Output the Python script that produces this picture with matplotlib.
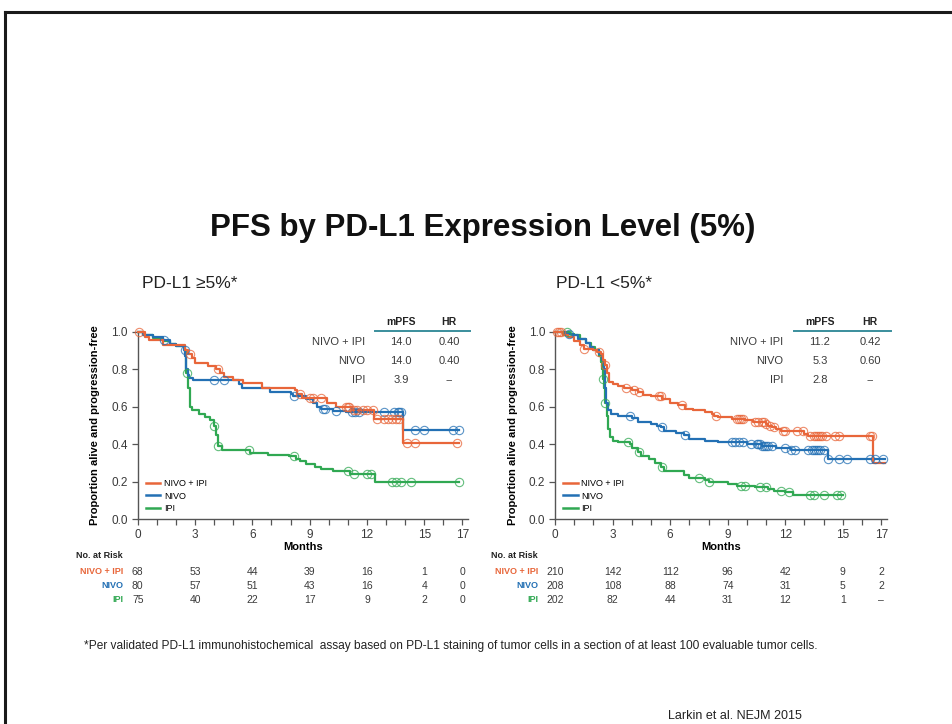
import numpy as np
import matplotlib
matplotlib.use("Agg")
import matplotlib.pyplot as plt
from matplotlib import transforms
from matplotlib.lines import Line2D

W, H = 953, 724

plt.rcParams['font.family'] = ['Liberation Sans', 'DejaVu Sans']

ORANGE = '#E8663A'
BLUE = '#2370B4'
GREEN = '#30A852'
TEAL = '#3A8E9C'
GREY = '#3a3a3a'

arms = ['NIVO + IPI', 'NIVO', 'IPI']
arm_colors = [ORANGE, BLUE, GREEN]

# ---- PD-L1 >=5% ----
ge5_combo_t = [0, 0.4, 0.6, 1.3, 2.5, 2.65, 2.85, 3.0, 3.7, 4.1, 4.3, 4.5, 5.0, 5.5, 6.5,
               8.25, 8.35, 8.6, 9.9, 10.4, 11.2, 12.35, 13.9, 16.8]
ge5_combo_s = [1.0, 0.97, 0.955, 0.93, 0.90, 0.88, 0.86, 0.835, 0.815, 0.80, 0.78, 0.76, 0.745,
               0.725, 0.70, 0.69, 0.67, 0.645, 0.62, 0.60, 0.58, 0.535, 0.405, 0.405]
ge5_combo_c = [0.05, 2.75, 4.2, 8.5, 9.0, 9.2, 9.6, 10.9, 11.0, 11.05, 11.3, 11.5, 11.8, 12.0,
               12.3, 12.5, 12.9, 13.1, 13.3, 13.5, 13.7, 14.1, 14.5, 16.7]

ge5_nivo_t = [0, 0.3, 0.8, 1.3, 1.7, 2.0, 2.4, 2.5, 2.55, 2.62, 2.7, 2.9, 5.3, 5.45, 6.9, 8.0,
              8.15, 8.8, 9.2, 9.4, 9.6, 10.2, 10.9, 13.9, 16.8]
ge5_nivo_s = [1.0, 0.98, 0.97, 0.955, 0.935, 0.925, 0.90, 0.87, 0.80, 0.77, 0.755, 0.74, 0.72,
              0.70, 0.68, 0.67, 0.655, 0.64, 0.62, 0.60, 0.59, 0.575, 0.57, 0.475, 0.475]
ge5_nivo_c = [1.4, 2.45, 4.0, 4.5, 8.2, 9.7, 9.8, 10.4, 11.2, 11.4, 11.6, 12.9, 13.4, 13.6,
              13.7, 13.8, 14.5, 15.0, 16.5, 16.8]

ge5_ipi_t = [0, 0.3, 0.8, 1.3, 1.7, 2.0, 2.5, 2.55, 2.65, 2.75, 2.85, 3.2, 3.5, 3.8, 4.0, 4.1,
             4.2, 4.4, 5.9, 6.8, 7.9, 8.3, 8.5, 8.8, 9.3, 9.6, 10.2, 11.1, 12.4, 16.8]
ge5_ipi_s = [1.0, 0.98, 0.965, 0.95, 0.935, 0.925, 0.89, 0.78, 0.70, 0.60, 0.58, 0.56, 0.545,
             0.53, 0.50, 0.45, 0.39, 0.37, 0.355, 0.345, 0.335, 0.32, 0.31, 0.295, 0.28, 0.27,
             0.26, 0.24, 0.20, 0.20]
ge5_ipi_c = [2.6, 4.0, 4.2, 5.8, 8.2, 11.0, 11.3, 12.0, 12.2, 13.3, 13.5, 13.8, 14.3, 16.8]

# ---- PD-L1 <5% ----
lt5_combo_t = [0, 0.4, 0.7, 1.0, 1.3, 1.5, 2.0, 2.2, 2.4, 2.5, 2.6, 2.7, 2.8, 3.0, 3.3, 3.6,
               4.0, 4.3, 4.6, 5.0, 5.6, 6.0, 6.4, 6.8, 7.2, 7.8, 8.2, 8.3, 8.5, 9.2, 9.9, 10.3,
               11.0, 11.1, 11.3, 11.5, 11.8, 13.0, 13.2, 16.55, 17.2]
lt5_combo_s = [1.0, 0.98, 0.97, 0.95, 0.93, 0.91, 0.90, 0.89, 0.88, 0.85, 0.82, 0.78, 0.73,
               0.72, 0.71, 0.70, 0.69, 0.68, 0.665, 0.655, 0.64, 0.62, 0.61, 0.59, 0.58, 0.57,
               0.56, 0.55, 0.545, 0.535, 0.53, 0.52, 0.51, 0.50, 0.49, 0.48, 0.47, 0.455, 0.445,
               0.30, 0.30]
lt5_combo_c = [0.1, 0.2, 0.3, 1.5, 2.3, 2.6, 3.7, 4.1, 4.4, 5.4, 5.5, 6.6, 8.4, 9.5, 9.6, 9.7,
               9.8, 10.4, 10.6, 10.8, 10.9, 11.0, 11.2, 11.4, 11.9, 12.0, 12.6, 12.9, 13.3,
               13.5, 13.6, 13.7, 13.8, 13.9, 14.1, 14.6, 14.8, 16.4, 16.5]

lt5_nivo_t = [0, 0.5, 0.9, 1.2, 1.6, 1.8, 2.0, 2.3, 2.45, 2.55, 2.6, 2.65, 2.75, 2.9, 3.3,
              4.0, 4.3, 5.0, 5.3, 5.5, 5.7, 6.3, 6.7, 7.0, 7.8, 8.5, 10.0, 10.8, 11.5, 12.3,
              14.2, 17.2]
lt5_nivo_s = [1.0, 0.99, 0.98, 0.96, 0.94, 0.92, 0.90, 0.88, 0.85, 0.80, 0.70, 0.62, 0.58,
              0.56, 0.55, 0.54, 0.52, 0.51, 0.50, 0.49, 0.47, 0.46, 0.45, 0.43, 0.42, 0.41,
              0.40, 0.39, 0.38, 0.37, 0.32, 0.32]
lt5_nivo_c = [0.75, 3.9, 5.6, 6.8, 9.2, 9.4, 9.6, 9.8, 10.2, 10.5, 10.6, 10.7, 10.8, 10.9,
              11.0, 11.1, 11.3, 12.0, 12.3, 12.5, 13.2, 13.4, 13.5, 13.6, 13.7, 13.8, 14.0,
              14.2, 14.8, 15.2, 16.4, 16.7, 17.1]

lt5_ipi_t = [0, 0.8, 1.0, 1.3, 1.6, 1.9, 2.1, 2.3, 2.4, 2.45, 2.5, 2.55, 2.6, 2.7, 2.75, 2.85,
             3.0, 3.3, 3.9, 4.0, 4.3, 4.5, 4.9, 5.2, 5.5, 5.7, 6.5, 6.7, 7.0, 7.8, 8.0, 9.0,
             9.5, 10.4, 11.1, 11.4, 12.0, 12.4, 15.0]
lt5_ipi_s = [1.0, 0.99, 0.98, 0.96, 0.94, 0.92, 0.90, 0.87, 0.84, 0.80, 0.75, 0.70, 0.62,
             0.55, 0.48, 0.44, 0.42, 0.41, 0.40, 0.38, 0.36, 0.34, 0.32, 0.30, 0.28, 0.26,
             0.255, 0.235, 0.22, 0.21, 0.20, 0.19, 0.18, 0.17, 0.16, 0.15, 0.145, 0.13, 0.13]
lt5_ipi_c = [0.6, 2.5, 2.6, 3.8, 4.4, 5.6, 7.5, 8.0, 9.7, 9.9, 10.7, 11.0, 11.8, 12.2, 13.3,
             13.5, 14.0, 14.7, 14.9]

# summary table
ge5_mpfs = ['14.0', '14.0', '3.9']
ge5_hr = ['0.40', '0.40', '--']
lt5_mpfs = ['11.2', '5.3', '2.8']
lt5_hr = ['0.42', '0.60', '--']

# numbers at risk
risk_months = [0, 3, 6, 9, 12, 15, 17]
ge5_risk = [[68, 53, 44, 39, 16, 1, 0],
            [80, 57, 51, 43, 16, 4, 0],
            [75, 40, 22, 17, 9, 2, 0]]
lt5_risk = [[210, 142, 112, 96, 42, 9, 2],
            [208, 108, 88, 74, 31, 5, 2],
            [202, 82, 44, 31, 12, 1, '–']]


def fx(x):
    return x / W


def fy(y):
    return 1 - y / H


NARROW = ['Liberation Sans Narrow', 'Liberation Sans', 'DejaVu Sans']


def km_panel(fig, ax, curves, mpfs, hr, risk, label_right, table_x):
    for (t, s, c), col in zip(curves[::-1], arm_colors[::-1]):
        t = np.array(t)
        s = np.array(s)
        ax.step(t, s, where='post', color=col, lw=1.6, clip_on=False, zorder=3)
        idx = np.searchsorted(t, np.array(c), side='right') - 1
        ax.plot(c, s[idx], 'o', mfc='none', mec=col, ms=6, mew=0.8, alpha=0.75,
                clip_on=False, zorder=4)

    ax.set_xlim(0, 17.3)
    ax.set_ylim(0, 1.0)
    ax.spines['top'].set_visible(False)
    ax.spines['right'].set_visible(False)
    for sp in ['left', 'bottom']:
        ax.spines[sp].set_color('#555555')
        ax.spines[sp].set_linewidth(1.0)
    ax.set_xticks(range(0, 18))
    ax.set_xticklabels([str(m) if m in risk_months else '' for m in range(0, 18)])
    ax.set_yticks(np.arange(0, 1.01, 0.2))
    ax.set_yticklabels(['%.1f' % v for v in np.arange(0, 1.01, 0.2)])
    ax.tick_params(direction='out', length=4, width=0.9, color='#555555',
                   labelsize=8.5, labelcolor=GREY, pad=3)
    ax.set_xlabel('Months', fontsize=8, fontweight='bold', family=NARROW, labelpad=1)
    ax.set_ylabel('Proportion alive and progression-free', fontsize=8, fontweight='bold',
                  family=NARROW, labelpad=8)

    handles = [Line2D([0], [0], color=c, lw=1.8) for c in arm_colors]
    ax.legend(handles, arms, loc='lower left', bbox_to_anchor=(0.025, 0.035),
              frameon=False, fontsize=6.5, handlelength=1.6, handletextpad=0.4,
              labelspacing=0.35, borderpad=0, borderaxespad=0)

    # summary table
    lab_x, mp_x, hr_x = table_x
    fig.text(fx(mp_x), fy(322), 'mPFS', ha='center', va='center', fontsize=7.5,
             fontweight='bold', family=NARROW, color='#222222')
    fig.text(fx(hr_x), fy(322), 'HR', ha='center', va='center', fontsize=7.5,
             fontweight='bold', family=NARROW, color='#222222')
    fig.add_artist(Line2D([fx(mp_x - 26), fx(hr_x + 21)], [fy(331), fy(331)],
                          color=TEAL, lw=1.4))
    for i, y in enumerate([342, 361, 380]):
        fig.text(fx(lab_x), fy(y), arms[i], ha='right', va='center', fontsize=8, color=GREY)
        fig.text(fx(mp_x), fy(y), mpfs[i], ha='center', va='center', fontsize=8, color=GREY)
        fig.text(fx(hr_x), fy(y), hr[i], ha='center', va='center', fontsize=8, color=GREY)

    # numbers at risk
    trans = transforms.blended_transform_factory(ax.transData, fig.transFigure)
    fig.text(fx(label_right), fy(556), 'No. at Risk', ha='right', va='center', fontsize=6.5,
             fontweight='bold', family=NARROW, color='#222222')
    for i, y in enumerate([572, 586, 600]):
        fig.text(fx(label_right), fy(y), arms[i], ha='right', va='center', fontsize=6.5,
                 fontweight='bold', family=NARROW, color=arm_colors[i])
        for m, n in zip(risk_months, risk[i]):
            ax.text(m, fy(y), str(n), transform=trans, ha='center', va='center',
                    fontsize=7.5, color=GREY)


fig = plt.figure(figsize=(W / 100, H / 100), dpi=100)
fig.patch.set_facecolor('white')

# slide frame
fig.add_artist(Line2D([fx(5.5), fx(5.5)], [fy(11.5), 0], color='#1a1a1a', lw=2.2))
fig.add_artist(Line2D([fx(5.5), 1], [fy(11.5), fy(11.5)], color='#1a1a1a', lw=2.2))

fig.text(fx(483), fy(228), 'PFS by PD-L1 Expression Level (5%)', ha='center', va='center',
         fontsize=22.5, fontweight='bold', color='#111111')
fig.text(fx(142), fy(284), 'PD-L1 ≥5%*', ha='left', va='center', fontsize=12.5, color='#222222')
fig.text(fx(556), fy(284), 'PD-L1 <5%*', ha='left', va='center', fontsize=12.5, color='#222222')

ax1 = fig.add_axes([fx(137.7), fy(519.3), 330.5 / W, 187.6 / H])
ax2 = fig.add_axes([fx(555), fy(519.3), 332 / W, 187.6 / H])

km_panel(fig, ax1,
         [(ge5_combo_t, ge5_combo_s, ge5_combo_c),
          (ge5_nivo_t, ge5_nivo_s, ge5_nivo_c),
          (ge5_ipi_t, ge5_ipi_s, ge5_ipi_c)],
         ge5_mpfs, ge5_hr, ge5_risk, 123, (365, 401, 449))
km_panel(fig, ax2,
         [(lt5_combo_t, lt5_combo_s, lt5_combo_c),
          (lt5_nivo_t, lt5_nivo_s, lt5_nivo_c),
          (lt5_ipi_t, lt5_ipi_s, lt5_ipi_c)],
         lt5_mpfs, lt5_hr, lt5_risk, 538, (783, 820, 870))

fig.text(fx(84), fy(646), '*Per validated PD-L1 immunohistochemical  assay based on PD-L1 '
         'staining of tumor cells in a section of at least 100 evaluable tumor cells.',
         ha='left', va='center', fontsize=8.6, color='#222222')
fig.text(fx(668), fy(722), 'Larkin et al. NEJM 2015', ha='left', va='bottom', fontsize=9,
         color='#222222')

fig.savefig('out.png', dpi=100)
